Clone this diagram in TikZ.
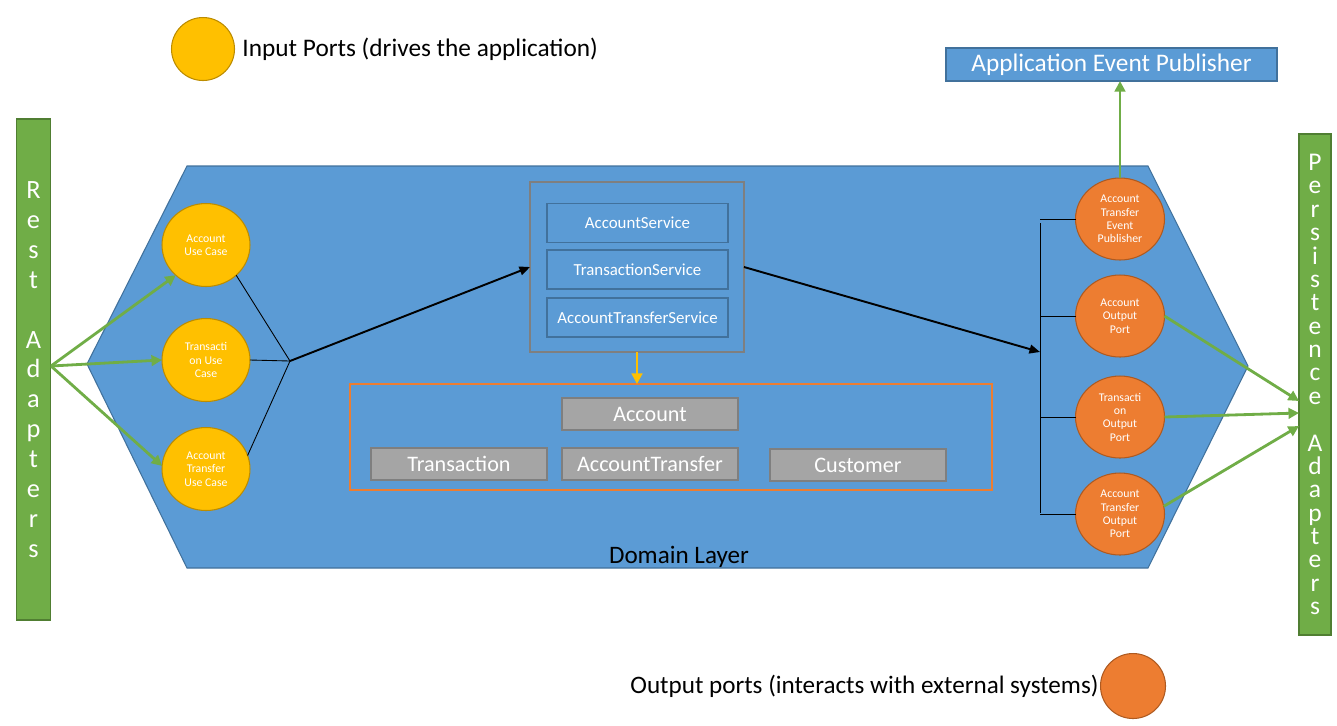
\documentclass[tikz,border=0pt]{standalone}
\usepackage{fontspec}
\setmainfont{Carlito}
\usepackage{tikz}
\usetikzlibrary{shapes.geometric,arrows.meta,positioning}
\definecolor{hexblue}{HTML}{5B9BD5}
\definecolor{hexline}{HTML}{41719C}
\definecolor{adgreen}{HTML}{70AD47}
\definecolor{adline}{HTML}{507E32}
\definecolor{inyellow}{HTML}{FFC000}
\definecolor{inline}{HTML}{BC8C00}
\definecolor{outorange}{HTML}{ED7D31}
\definecolor{outline}{HTML}{AE5A21}
\definecolor{entgray}{HTML}{A5A5A5}
\definecolor{entline}{HTML}{7F7F7F}

\begin{document}
\begin{tikzpicture}[x=0.02cm,y=-0.02cm]
\tikzstyle{every node}+=[inner sep=0pt,outer sep=0pt]
\tikzstyle{adapter}=[draw=adline,fill=adgreen,line width=0.8pt,text=white,align=center,minimum width=0.68cm,minimum height=10.02cm]
\tikzstyle{inport}=[ellipse,draw=inline,fill=inyellow,line width=0.6pt,minimum width=1.76cm,minimum height=1.66cm,text=white,align=center,font=\fontsize{6.7}{7.6}\selectfont]
\tikzstyle{outport}=[ellipse,draw=outline,fill=outorange,line width=0.6pt,minimum width=1.78cm,minimum height=1.64cm,text=white,align=center,font=\fontsize{6.7}{7.6}\selectfont]
\tikzstyle{service}=[draw=hexline,fill=hexblue,line width=0.9pt,minimum width=3.62cm,minimum height=0.78cm,text=white,font=\fontsize{9.6}{11}\selectfont]
\tikzstyle{entity}=[draw=entline,fill=entgray,line width=0.9pt,minimum width=3.52cm,minimum height=0.64cm,text=white,font=\fontsize{12.6}{14}\selectfont]
\tikzstyle{greenarrow}=[draw=adgreen,line width=1.6pt,-{Triangle[length=6pt,width=6pt]}]
\tikzstyle{blackarrow}=[draw=black,line width=1.1pt,-{Triangle[length=6pt,width=5pt]}]
\tikzstyle{thinline}=[draw=black,line width=0.5pt]
\useasboundingbox (0,0) rectangle (1337,725);
\draw [draw=hexline,fill=hexblue,line width=0.6pt] (187,166) -- (1148,166) -- (1248,366) -- (1148,568) -- (187,568) -- (87,364) -- cycle;
\node [text=black,font=\fontsize{14.3}{16}\selectfont] (domlabel) at (679,557) {Domain Layer};
\node [circle,draw=inline,fill=inyellow,line width=0.6pt,minimum size=1.26cm] (inlegend) at (203,49) {};
\node [right=0.16cm of inlegend,font=\fontsize{14.4}{16}\selectfont] (intext) {Input Ports (drives the application)};
\node [circle,draw=outline,fill=outorange,line width=0.6pt,minimum size=1.3cm] (outlegend) at (1133,686) {};
\node [left=0.04cm of outlegend,font=\fontsize{14.3}{16}\selectfont] (outtext) {Output ports (interacts with external systems)};
\node [adapter,font=\fontsize{15}{17}\selectfont] (rest) at (33.5,369.5) {R\\e\\s\\t\\[17pt]A\\d\\a\\p\\t\\e\\r\\s};
\node [adapter,minimum width=0.64cm,font=\fontsize{14.5}{13.3}\selectfont] (persist) at (1315,384.5) {P\\e\\r\\s\\i\\s\\t\\e\\n\\c\\e\\[13.3pt]A\\d\\a\\p\\t\\e\\r\\s};
\node [draw=hexline,fill=hexblue,line width=0.8pt,minimum width=6.62cm,minimum height=0.66cm,text=white,font=\fontsize{14.4}{16}\selectfont] (publisher) at (1111.5,64.5) {Application Event Publisher};
\node [inport] (accuse) at (206,245) {Account\\Use Case};
\node [inport] (txuse) at (206,360) {Transacti\\on Use\\Case};
\node [inport] (xferuse) at (206,469) {Account\\Transfer\\Use Case};
\node [outport] (xferpub) at (1120,219) {Account\\Transfer\\Event\\Publisher};
\node [outport] (accout) at (1120,316) {Account\\Output\\Port};
\node [outport] (txout) at (1120,417) {Transacti\\on\\Output\\Port};
\node [outport] (xferout) at (1120,514) {Account\\Transfer\\Output\\Port};
\node [draw=entline,line width=0.9pt,minimum width=4.28cm,minimum height=3.4cm] (services) at (637,267) {};
\node [service] (accsvc) at (637.5,223) {AccountService};
\node [service] (txsvc) at (637.5,269.5) {TransactionService};
\node [service] (xfersvc) at (637.5,317.5) {AccountTransferService};
\node [draw=outorange,line width=0.8pt,minimum width=12.84cm,minimum height=2.12cm] (domain) at (671,437) {};
\node [entity] (account) at (650,414) {Account};
\node [entity] (transaction) at (459,464) {Transaction};
\node [entity] (transfer) at (650,464) {AccountTransfer};
\node [entity] (customer) at (858,465) {Customer};
\coordinate (injoin) at (290,361);
\coordinate (bustop) at (1040,223);
\coordinate (busbot) at (1040,513);
\coordinate (busin) at (1040,352);
\coordinate (pin1) at (1299,401);
\coordinate (pin2) at (1299,413);
\coordinate (pin3) at (1299,426);
\coordinate (restout) at (51,366);
\draw [greenarrow] (restout) -- (accuse.225);
\draw [greenarrow] (restout) -- (txuse.west);
\draw [greenarrow] (restout) -- (xferuse.176);
\draw [thinline] (accuse.-45) -- (injoin);
\draw [thinline] (txuse.east) -- (injoin);
\draw [thinline] (xferuse.18) -- (injoin);
\draw [blackarrow] (injoin) -- (services.west);
\draw [blackarrow] (services.east) -- (busin);
\draw [thinline] (bustop) -- (busbot);
\draw [thinline] (xferpub.west) -- (xferpub.west -| bustop);
\draw [thinline] (accout.west) -- (accout.west -| bustop);
\draw [thinline] (txout.west) -- (txout.west -| bustop);
\draw [thinline] (xferout.west) -- (xferout.west -| bustop);
\draw [draw=inyellow,line width=1.6pt,-{Triangle[length=6pt,width=6pt]}] (services.south) -- (services.south |- domain.north);
\draw [greenarrow] (xferpub.north) -- (xferpub.north |- publisher.south);
\draw [greenarrow] (accout.east) -- (pin1);
\draw [greenarrow] (txout.east) -- (pin2);
\draw [greenarrow] (xferout.10) -- (pin3);
\end{tikzpicture}
\end{document}
